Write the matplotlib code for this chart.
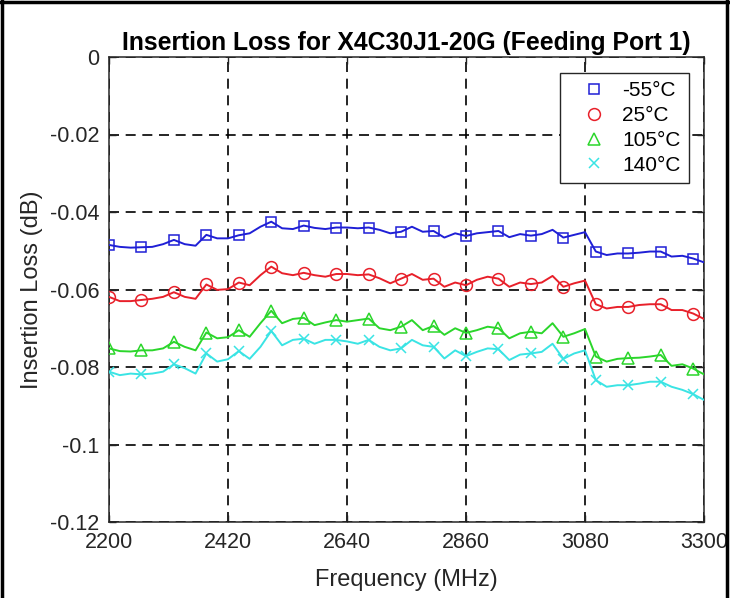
import matplotlib
matplotlib.use("Agg")
import matplotlib.pyplot as plt
from matplotlib.lines import Line2D

plt.rcParams['font.family'] = ['Liberation Sans', 'DejaVu Sans']

# Frequency sweep (MHz), 20 MHz step
freq_mhz = list(range(2200, 3301, 20))

loss_m55 = [-0.0485, -0.0490, -0.0492, -0.0491, -0.0490, -0.0483, -0.0472, -0.0483, -0.0487, -0.0459,
            -0.0468, -0.0468, -0.0460, -0.0455, -0.0438, -0.0425, -0.0442, -0.0444, -0.0435, -0.0441,
            -0.0444, -0.0440, -0.0440, -0.0442, -0.0440, -0.0446, -0.0455, -0.0451, -0.0438, -0.0451,
            -0.0449, -0.0466, -0.0455, -0.0462, -0.0455, -0.0452, -0.0449, -0.0465, -0.0457, -0.0461,
            -0.0457, -0.0446, -0.0466, -0.0459, -0.0452, -0.0502, -0.0511, -0.0507, -0.0507, -0.0505,
            -0.0502, -0.0502, -0.0515, -0.0513, -0.0520, -0.0530]

loss_25 = [-0.0619, -0.0630, -0.0630, -0.0627, -0.0624, -0.0619, -0.0607, -0.0619, -0.0624, -0.0587,
           -0.0601, -0.0599, -0.0582, -0.0589, -0.0563, -0.0541, -0.0558, -0.0563, -0.0557, -0.0563,
           -0.0567, -0.0560, -0.0560, -0.0563, -0.0561, -0.0571, -0.0584, -0.0572, -0.0560, -0.0575,
           -0.0572, -0.0593, -0.0582, -0.0589, -0.0575, -0.0567, -0.0572, -0.0593, -0.0582, -0.0586,
           -0.0582, -0.0565, -0.0593, -0.0584, -0.0577, -0.0638, -0.0649, -0.0645, -0.0645, -0.0640,
           -0.0638, -0.0638, -0.0653, -0.0653, -0.0662, -0.0676]

loss_105 = [-0.0752, -0.0759, -0.0760, -0.0757, -0.0757, -0.0752, -0.0735, -0.0748, -0.0757, -0.0711,
            -0.0726, -0.0723, -0.0705, -0.0722, -0.0687, -0.0655, -0.0687, -0.0676, -0.0673, -0.0692,
            -0.0685, -0.0679, -0.0683, -0.0679, -0.0675, -0.0700, -0.0705, -0.0696, -0.0679, -0.0705,
            -0.0694, -0.0717, -0.0700, -0.0712, -0.0705, -0.0696, -0.0700, -0.0726, -0.0713, -0.0709,
            -0.0713, -0.0687, -0.0722, -0.0713, -0.0702, -0.0773, -0.0786, -0.0779, -0.0777, -0.0776,
            -0.0773, -0.0769, -0.0797, -0.0793, -0.0804, -0.0819]

loss_140 = [-0.0812, -0.0821, -0.0817, -0.0819, -0.0817, -0.0812, -0.0793, -0.0803, -0.0817, -0.0765,
            -0.0786, -0.0780, -0.0759, -0.0779, -0.0748, -0.0707, -0.0744, -0.0730, -0.0727, -0.0740,
            -0.0730, -0.0730, -0.0734, -0.0740, -0.0730, -0.0748, -0.0757, -0.0752, -0.0730, -0.0744,
            -0.0748, -0.0778, -0.0757, -0.0772, -0.0761, -0.0752, -0.0754, -0.0782, -0.0768, -0.0765,
            -0.0761, -0.0740, -0.0779, -0.0765, -0.0757, -0.0834, -0.0851, -0.0847, -0.0847, -0.0843,
            -0.0838, -0.0838, -0.0851, -0.0859, -0.0870, -0.0885]

series_labels = ['-55°C', '25°C', '105°C', '140°C']
x_ticks = [2200, 2420, 2640, 2860, 3080, 3300]
y_ticks = [0, -0.02, -0.04, -0.06, -0.08, -0.1, -0.12]
y_ticklabels = ['0', '-0.02', '-0.04', '-0.06', '-0.08', '-0.1', '-0.12']

colors = ['#1f1fd6', '#e8202a', '#2bd62b', '#3ae4e4']
markers = ['s', 'o', '^', 'x']
msizes = [6.8, 8.5, 8.5, 6.5]

fig = plt.figure(figsize=(7.30, 5.98), dpi=100)
ax = fig.add_axes([109/730, 1 - 522/598, (704-109)/730, (522-57)/598])

all_series = [loss_m55, loss_25, loss_105, loss_140]
handles = []
for vals, c, m, ms, lab in zip(all_series, colors, markers, msizes, series_labels):
    ax.plot(freq_mhz, vals, color=c, lw=1.4, marker=m, markevery=3, ms=ms,
            mfc='none', mec=c, mew=1.1, zorder=3)
    handles.append(Line2D([], [], ls='none', marker=m, ms=ms, mfc='none', mec=c, mew=1.1, label=lab))

ax.set_xlim(2200, 3300)
ax.set_ylim(-0.12, 0)
ax.set_xticks(x_ticks)
ax.set_xticklabels([str(t) for t in x_ticks])
ax.set_yticks(y_ticks)
ax.set_yticklabels(y_ticklabels)

ax.grid(True, color='black', linestyle=(0, (6, 4)), linewidth=1.2)
ax.tick_params(direction='in', top=True, right=True, length=5, width=1.0,
               labelsize=15.5, pad=7, colors='#222222', labelcolor='#262626')
for s in ax.spines.values():
    s.set_color('#262626')
    s.set_linewidth(1.1)

ax.set_title('Insertion Loss for X4C30J1-20G (Feeding Port 1)', fontsize=17.8,
             fontweight='bold', pad=5, color='black')
ax.set_xlabel('Frequency (MHz)', fontsize=17, labelpad=12, color='#262626')
ax.set_ylabel('Insertion Loss (dB)', fontsize=17, labelpad=5, color='#262626')

leg = ax.legend(handles=handles, loc='upper right', bbox_to_anchor=(0.975, 0.966),
                borderaxespad=0, fontsize=15, frameon=True, fancybox=False,
                handlelength=2.5, handletextpad=0.1, borderpad=0.4, labelspacing=0.28,
                edgecolor='#262626', framealpha=1)
leg.get_frame().set_linewidth(1.0)

# figure border (left, top, right)
fig.add_artist(Line2D([2/730, 2/730], [0, 1], transform=fig.transFigure, color='black', lw=2.5))
fig.add_artist(Line2D([0, 1], [1 - 2/598, 1 - 2/598], transform=fig.transFigure, color='black', lw=2.5))
fig.add_artist(Line2D([727/730, 727/730], [0, 1], transform=fig.transFigure, color='black', lw=2.5))

fig.savefig('out.png', dpi=100)
